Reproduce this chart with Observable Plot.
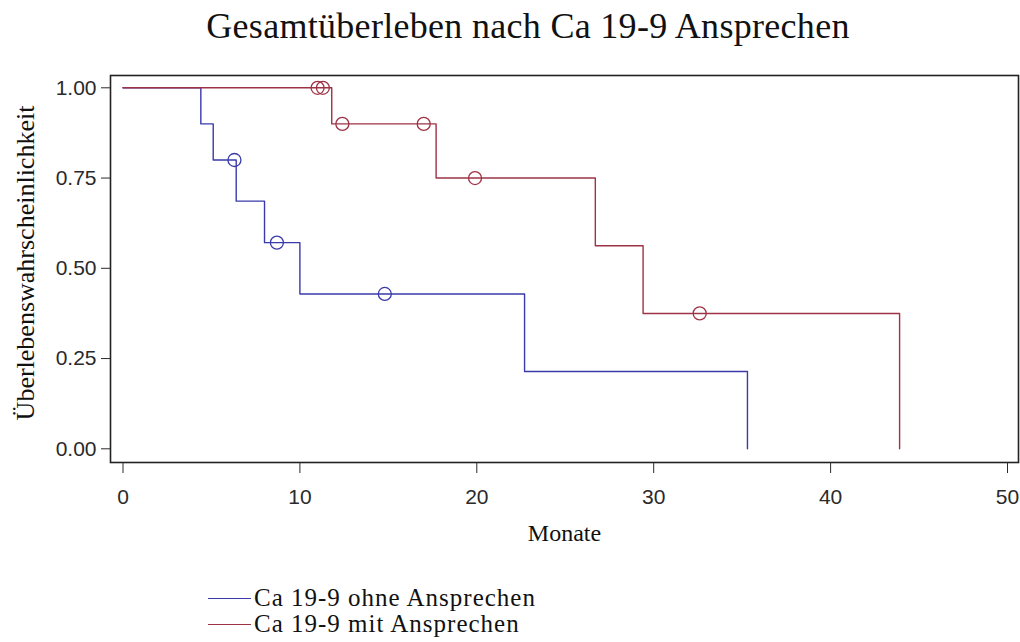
<!DOCTYPE html>
<html>
<head>
<meta charset="utf-8">
<script src="https://cdn.jsdelivr.net/npm/d3@7"></script>
<script src="https://cdn.jsdelivr.net/npm/@observablehq/plot@0.6"></script>
<style>
  html, body { margin: 0; padding: 0; background: #fff; }
  #wrap { width: 1020px; height: 642px; position: relative; overflow: hidden; }
  #title { box-sizing: border-box; height: 60px; padding-top: 6px; padding-left: 36px; line-height: 40px;
           text-align: center; font-family: "Liberation Serif", serif; font-size: 36px; letter-spacing: 0.3px; color: #111; }
  #chart svg { display: block; }
  #legend { margin-top: 35px; font-family: "Liberation Serif", serif; font-size: 25px; letter-spacing: 1px; color: #111; }
  .row { display: flex; align-items: center; height: 26px; line-height: 26px; }
  .sw { margin-left: 208px; width: 43px; height: 0; border-top: 1.5px solid; margin-right: 3px; }
</style>
</head>
<body>
<div id="wrap">
  <div id="title"></div>
  <div id="chart"></div>
  <div id="legend"></div>
</div>
<script>
const titleText = "Gesamtüberleben nach Ca 19-9 Ansprechen";
const xLabel = "Monate";
const yLabel = "Überlebenswahrscheinlichkeit";
const seriesNames = ["Ca 19-9 ohne Ansprechen", "Ca 19-9 mit Ansprechen"];
const seriesColors = ["#3a3aaa", "#9e3346"];
const xTicks = [0, 10, 20, 30, 40, 50];
const yTicks = [0, 0.25, 0.5, 0.75, 1];

// Kaplan-Meier steps: Ca 19-9 ohne Ansprechen
const ohneTime = [0, 4.4, 5.1, 6.4, 8.0, 10.0, 22.7, 35.3];
const ohneSurv = [1.0, 0.9, 0.8, 0.686, 0.571, 0.429, 0.214, 0.0];
const ohneCensTime = [6.3, 8.7, 14.8];
const ohneCensSurv = [0.8, 0.571, 0.429];

// Kaplan-Meier steps: Ca 19-9 mit Ansprechen
const mitTime = [0, 11.8, 17.7, 26.7, 29.4, 43.9];
const mitSurv = [1.0, 0.9, 0.75, 0.5625, 0.375, 0.0];
const mitCensTime = [11.0, 11.3, 12.4, 17.0, 19.9, 32.6];
const mitCensSurv = [1.0, 1.0, 0.9, 0.9, 0.75, 0.375];

const toRows = (ts, ss) => ts.map((t, i) => ({t, s: ss[i]}));
const ohne = toRows(ohneTime, ohneSurv);
const mit = toRows(mitTime, mitSurv);
const ohneC = toRows(ohneCensTime, ohneCensSurv);
const mitC = toRows(mitCensTime, mitCensSurv);

document.getElementById("title").textContent = titleText;

const plot = Plot.plot({
  width: 1020,
  height: 490,
  marginTop: 15,
  marginBottom: 88,
  marginLeft: 110,
  marginRight: 2,
  style: {fontFamily: "'Liberation Sans', Arial, sans-serif", fontSize: "21px", color: "#2a2a2a", background: "#fff"},
  x: {domain: [0, 50], insetLeft: 12.5, insetRight: 11},
  y: {domain: [0, 1], insetTop: 12.3, insetBottom: 13.7},
  marks: [
    Plot.frame({stroke: "#222", strokeWidth: 1.6}),
    Plot.axisX({ticks: xTicks, tickSize: 11, tickPadding: 16, label: null, tickFormat: d => String(d)}),
    Plot.axisY({ticks: yTicks, tickSize: 9, tickPadding: 5, label: null, tickFormat: d => d.toFixed(2)}),
    Plot.line(ohne, {x: "t", y: "s", curve: "step-after", stroke: seriesColors[0], strokeWidth: 1.4}),
    Plot.line(mit, {x: "t", y: "s", curve: "step-after", stroke: seriesColors[1], strokeWidth: 1.4}),
    Plot.dot(ohneC, {x: "t", y: "s", r: 6.5, stroke: seriesColors[0], fill: "none", strokeWidth: 1.3}),
    Plot.dot(mitC, {x: "t", y: "s", r: 6.5, stroke: seriesColors[1], fill: "none", strokeWidth: 1.3}),
    Plot.text([xLabel], {frameAnchor: "bottom", lineAnchor: "middle", dy: 71, fontFamily: "'Liberation Serif', serif", fontSize: 24, fill: "#111"}),
    Plot.text([yLabel], {frameAnchor: "left", lineAnchor: "middle", textAnchor: "middle", rotate: -90, dx: -85, dy: -6, fontFamily: "'Liberation Serif', serif", fontSize: 26, fill: "#111", style: "letter-spacing:1px"})
  ]
});
document.getElementById("chart").appendChild(plot);

const legend = document.getElementById("legend");
seriesNames.forEach((name, i) => {
  const row = document.createElement("div");
  row.className = "row";
  const sw = document.createElement("span");
  sw.className = "sw";
  sw.style.borderTopColor = seriesColors[i];
  const tx = document.createElement("span");
  tx.textContent = name;
  row.appendChild(sw);
  row.appendChild(tx);
  legend.appendChild(row);
});
</script>
</body>
</html>
